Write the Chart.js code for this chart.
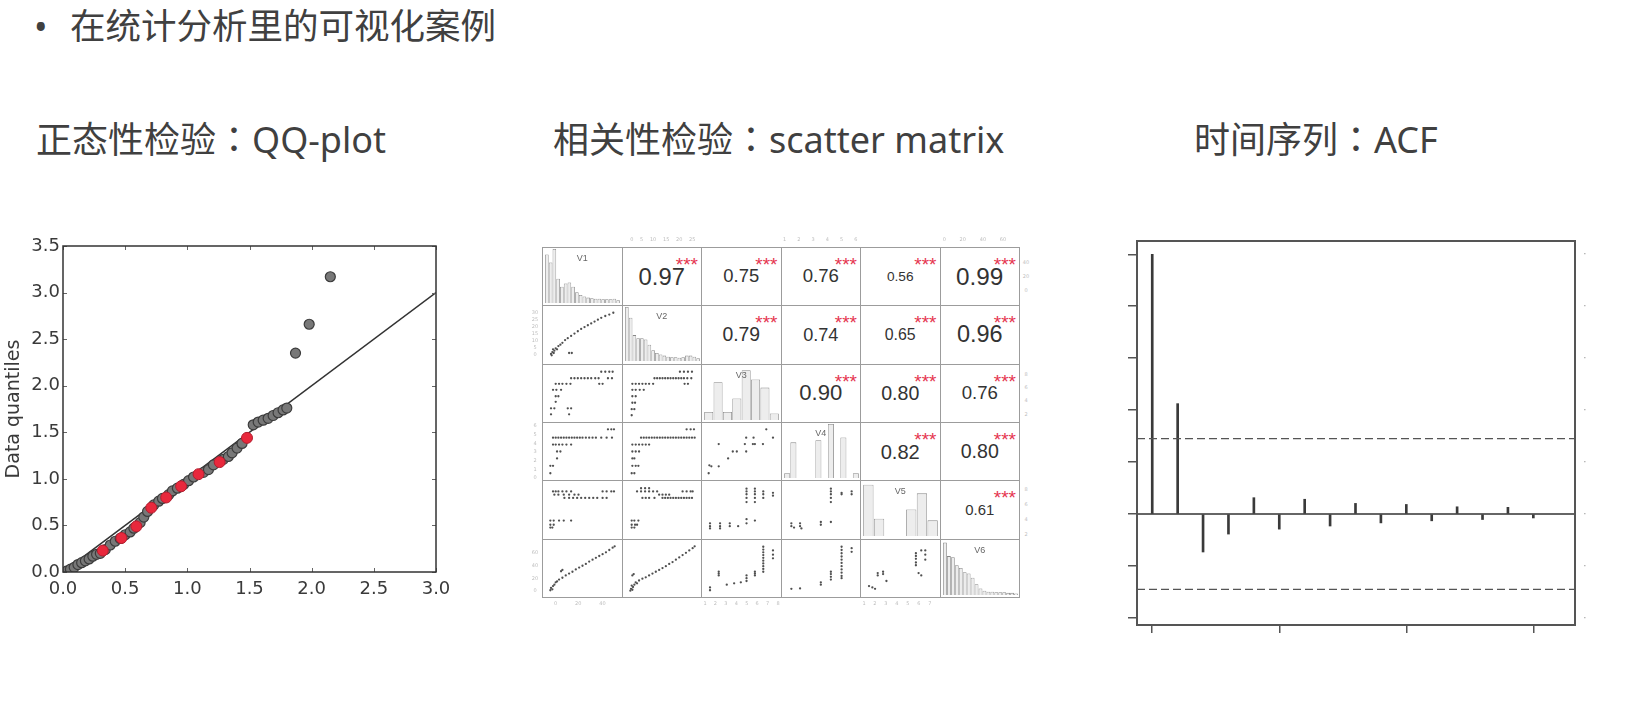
<!DOCTYPE html>
<html lang="zh-CN">
<head>
<meta charset="utf-8">
<title>统计分析可视化案例</title>
<script src="https://cdn.jsdelivr.net/npm/chart.js@4.4.1/dist/chart.umd.min.js"></script>
<style>
  html, body { margin:0; padding:0; background:#fff; }
  body { position:relative; width:1628px; height:713px; overflow:hidden; }
  .abs { position:absolute; }
  .head { font-family:"Noto Sans","Noto Sans CJK SC",sans-serif; white-space:nowrap; line-height:1; color:#404040; }
  .colon { font-family:"Noto Sans CJK TC",sans-serif; }
  #bullet { left:34px; top:9px; font-size:36px; }
  #title { left:70px; top:8px; font-size:35.5px; }
  .sub { top:119px; font-size:36px; }
  .cell { position:absolute; box-sizing:border-box; border:1px solid #9c9c9c; overflow:hidden; }
  .cell canvas { position:absolute; left:0; top:0; }
  .corr { position:absolute; left:0; top:0; width:100%; height:100%; display:flex; align-items:center; justify-content:center; font-family:"Liberation Sans",Arial,sans-serif; color:#333; line-height:1; }
  .stars { position:absolute; right:3px; top:7px; font-family:"Liberation Sans",Arial,sans-serif; font-size:19px; line-height:1; color:#e5354f; }
  .vlab { position:absolute; left:0; width:100%; top:6px; text-align:center; font-family:"Liberation Sans",Arial,sans-serif; font-size:9px; color:#666; line-height:1; }
  .edge { position:absolute; display:flex; justify-content:space-between; align-items:center; font-family:"DejaVu Sans",sans-serif; font-size:5px; color:#bdbdbd; line-height:1; }
</style>
</head>
<body>
<div id="bullet" class="abs head">•</div>
<div id="title" class="abs head">在统计分析里的可视化案例</div>
<div class="abs head sub" style="left:36px">正态性检验<span class="colon" lang="zh-TW">：</span>QQ-plot</div>
<div class="abs head sub" style="left:553px">相关性检验<span class="colon" lang="zh-TW">：</span>scatter matrix</div>
<div class="abs head sub" style="left:1194px">时间序列<span class="colon" lang="zh-TW">：</span>ACF</div>

<div class="abs" style="left:0;top:225px;width:450px;height:385px;overflow:hidden"><canvas id="qq" width="470" height="385"></canvas></div>
<div class="abs" style="left:1100px;top:225px;width:520px;height:420px"><canvas id="acf" width="520" height="420"></canvas></div>

<script>
// ---------------- QQ-plot data ----------------
const qqTheoGray = [0.03,0.06,0.09,0.12,0.15,0.18,0.21,0.24,0.27,0.30,0.34,0.38,0.42,0.46,0.50,0.54,0.57,0.62,0.65,0.68,0.73,0.77,0.80,0.85,0.88,0.92,0.97,1.01,1.05,1.13,1.17,1.21,1.29,1.33,1.36,1.40,1.44,1.53,1.57,1.61,1.65,1.69,1.73,1.77,1.80,1.87,1.98,2.15];
const qqDataGray = [0.01,0.03,0.05,0.08,0.10,0.12,0.14,0.17,0.19,0.20,0.24,0.29,0.33,0.36,0.40,0.43,0.47,0.53,0.59,0.65,0.72,0.76,0.79,0.83,0.87,0.90,0.94,0.98,1.02,1.07,1.10,1.15,1.21,1.24,1.28,1.33,1.38,1.58,1.61,1.63,1.65,1.68,1.71,1.74,1.76,2.35,2.66,3.17];
const qqTheoRed = [0.32,0.47,0.59,0.71,0.83,0.95,1.09,1.26,1.48];
const qqDataRed = [0.23,0.365,0.49,0.69,0.80,0.92,1.05,1.18,1.44];
const qqRefLineX = [0, 3];
const qqRefLineY = [0, 3];
const qqXTicks = [0, 0.5, 1.0, 1.5, 2.0, 2.5, 3.0];
const qqYTicks = [0, 0.5, 1.0, 1.5, 2.0, 2.5, 3.0, 3.5];

// ---------------- scatter matrix data ----------------
const matrixVars = ['V1','V2','V3','V4','V5','V6'];
const corrRow1 = [0.97, 0.75, 0.76, 0.56, 0.99];
const corrRow2 = [0.79, 0.74, 0.65, 0.96];
const corrRow3 = [0.90, 0.80, 0.76];
const corrRow4 = [0.82, 0.80];
const corrRow5 = [0.61];
const corrStars = '***';

const histV1 = [0.9,0.75,1.0,0.45,0.3,0.36,0.38,0.3,0.2,0.15,0.12,0.1,0.09,0.08,0.08,0.07,0.07,0.07,0.08,0.05];
const histV2 = [1.0,0.8,0.48,0.42,0.42,0.4,0.3,0.2,0.15,0.12,0.1,0.08,0.07,0.07,0.06,0.07,0.1,0.1,0.08,0.05];
const histV3 = [0.15,0.7,0.15,0.4,0.92,0.75,0.6,0.12];
const histV4 = [0.09,0.66,0,0,0,0.7,0,1.0,0,0.75,0,0.09];
const histV5 = [0.95,0.32,0,0,0.49,0.79,0.29];
const histV6 = [0.97,0.72,0.7,0.55,0.5,0.42,0.4,0.32,0.2,0.12,0.08,0.06,0.06,0.05,0.05,0.05,0.04,0.04,0.03];

const scV2V1 = [[0.03,0.08],[0.05,0.12],[0.07,0.1],[0.08,0.15],[0.1,0.2],[0.12,0.18],[0.14,0.25],[0.17,0.28],[0.2,0.32],[0.24,0.38],[0.28,0.42],[0.33,0.47],[0.38,0.52],[0.43,0.57],[0.48,0.62],[0.53,0.66],[0.58,0.7],[0.63,0.74],[0.68,0.78],[0.73,0.82],[0.78,0.86],[0.84,0.9],[0.9,0.93],[0.96,0.97],[0.3,0.1],[0.34,0.1],[0.04,0.05],[0.06,0.18]];
const scV3V1 = [[0.78,0.97],[0.84,0.97],[0.9,0.97],[0.95,0.97],[0.33,0.83],[0.38,0.83],[0.43,0.83],[0.48,0.83],[0.53,0.83],[0.58,0.83],[0.63,0.83],[0.69,0.83],[0.74,0.83],[0.88,0.83],[0.94,0.83],[0.1,0.71],[0.15,0.71],[0.2,0.71],[0.26,0.71],[0.32,0.71],[0.75,0.71],[0.8,0.71],[0.06,0.58],[0.11,0.58],[0.18,0.58],[0.1,0.44],[0.14,0.44],[0.1,0.32],[0.03,0.18],[0.08,0.18],[0.28,0.18],[0.33,0.18],[0.03,0.05],[0.3,0.05]];
const scV3V2 = [[0.76,0.97],[0.82,0.97],[0.88,0.97],[0.94,0.97],[0.38,0.83],[0.42,0.83],[0.46,0.83],[0.5,0.83],[0.54,0.83],[0.58,0.83],[0.62,0.83],[0.66,0.83],[0.7,0.83],[0.74,0.83],[0.78,0.83],[0.82,0.83],[0.87,0.83],[0.93,0.83],[0.05,0.71],[0.1,0.71],[0.15,0.71],[0.2,0.71],[0.25,0.71],[0.3,0.71],[0.36,0.71],[0.83,0.71],[0.88,0.71],[0.05,0.58],[0.1,0.58],[0.16,0.58],[0.22,0.58],[0.05,0.44],[0.1,0.44],[0.05,0.3],[0.09,0.3],[0.04,0.16],[0.08,0.16],[0.04,0.03]];
const scV4V1 = [[0.88,0.98],[0.93,0.98],[0.97,0.98],[0.06,0.8],[0.1,0.8],[0.14,0.8],[0.18,0.8],[0.22,0.8],[0.26,0.8],[0.3,0.8],[0.34,0.8],[0.38,0.8],[0.42,0.8],[0.46,0.8],[0.5,0.8],[0.55,0.8],[0.6,0.8],[0.65,0.8],[0.7,0.8],[0.78,0.8],[0.86,0.8],[0.94,0.8],[0.06,0.65],[0.1,0.65],[0.15,0.65],[0.2,0.65],[0.26,0.65],[0.33,0.65],[0.12,0.5],[0.17,0.5],[0.12,0.35],[0.02,0.19],[0.06,0.19],[0.02,0.03]];
const scV4V2 = [[0.86,0.98],[0.92,0.98],[0.97,0.98],[0.18,0.8],[0.22,0.8],[0.26,0.8],[0.3,0.8],[0.34,0.8],[0.38,0.8],[0.42,0.8],[0.46,0.8],[0.5,0.8],[0.54,0.8],[0.58,0.8],[0.62,0.8],[0.66,0.8],[0.7,0.8],[0.74,0.8],[0.78,0.8],[0.82,0.8],[0.86,0.8],[0.9,0.8],[0.94,0.8],[0.98,0.8],[0.05,0.65],[0.1,0.65],[0.15,0.65],[0.2,0.65],[0.25,0.65],[0.3,0.65],[0.05,0.5],[0.1,0.5],[0.15,0.5],[0.05,0.35],[0.08,0.35],[0.05,0.19],[0.1,0.19],[0.14,0.19],[0.04,0.03],[0.08,0.03]];
const scV4V3 = [[0.01,0.03],[0.05,0.18],[0.16,0.66],[0.3,0.35],[0.37,0.5],[0.43,0.5],[0.55,0.66],[0.57,0.8],[0.57,0.5],[0.67,0.66],[0.68,0.8],[0.7,0.66],[0.82,0.66],[0.87,0.98],[0.97,0.8],[0.16,0.18],[0.02,0.2]];
const scV5V1 = [[0.06,0.89],[0.1,0.89],[0.14,0.89],[0.2,0.89],[0.26,0.89],[0.33,0.89],[0.8,0.89],[0.86,0.89],[0.93,0.89],[0.97,0.89],[0.08,0.82],[0.14,0.82],[0.22,0.82],[0.3,0.82],[0.38,0.82],[0.44,0.82],[0.23,0.75],[0.3,0.75],[0.36,0.75],[0.42,0.75],[0.48,0.75],[0.54,0.75],[0.6,0.75],[0.66,0.75],[0.72,0.75],[0.8,0.75],[0.86,0.75],[0.02,0.26],[0.07,0.26],[0.15,0.26],[0.22,0.26],[0.33,0.26],[0.02,0.17],[0.07,0.17],[0.02,0.11],[0.05,0.11]];
const scV5V2 = [[0.18,0.96],[0.24,0.96],[0.3,0.96],[0.12,0.89],[0.18,0.89],[0.24,0.89],[0.3,0.89],[0.36,0.89],[0.42,0.89],[0.8,0.89],[0.86,0.89],[0.92,0.89],[0.95,0.89],[0.45,0.82],[0.5,0.82],[0.55,0.82],[0.6,0.82],[0.2,0.75],[0.25,0.75],[0.3,0.75],[0.38,0.75],[0.5,0.75],[0.54,0.75],[0.58,0.75],[0.62,0.75],[0.66,0.75],[0.7,0.75],[0.74,0.75],[0.78,0.75],[0.82,0.75],[0.86,0.75],[0.9,0.75],[0.94,0.75],[0.04,0.26],[0.08,0.26],[0.14,0.26],[0.04,0.17],[0.09,0.17],[0.12,0.17],[0.04,0.11],[0.08,0.11]];
const scV5V3 = [[0.575,0.95],[0.575,0.89],[0.575,0.83],[0.575,0.75],[0.575,0.66],[0.7,0.95],[0.7,0.89],[0.7,0.83],[0.7,0.75],[0.7,0.66],[0.825,0.89],[0.825,0.83],[0.825,0.75],[0.97,0.86],[0.97,0.8],[0.03,0.2],[0.03,0.14],[0.03,0.09],[0.18,0.2],[0.18,0.14],[0.18,0.09],[0.325,0.2],[0.325,0.14],[0.45,0.14],[0.575,0.29],[0.575,0.2],[0.7,0.26]];
const scV5V4 = [[0.05,0.14],[0.09,0.11],[0.18,0.14],[0.2,0.09],[0.05,0.2],[0.18,0.2],[0.49,0.23],[0.49,0.17],[0.64,0.95],[0.64,0.89],[0.64,0.83],[0.64,0.75],[0.64,0.66],[0.64,0.23],[0.8,0.86],[0.8,0.83],[0.95,0.89],[0.95,0.83]];
const scV6V1 = [[0.02,0.03],[0.03,0.08],[0.05,0.05],[0.06,0.12],[0.08,0.15],[0.1,0.2],[0.12,0.22],[0.15,0.26],[0.2,0.3],[0.25,0.35],[0.3,0.39],[0.35,0.43],[0.4,0.48],[0.45,0.52],[0.5,0.56],[0.55,0.6],[0.6,0.65],[0.65,0.69],[0.7,0.73],[0.75,0.77],[0.8,0.81],[0.85,0.85],[0.9,0.9],[0.95,0.95],[0.98,0.98],[0.18,0.44],[0.2,0.47]];
const scV6V2 = [[0.02,0.02],[0.03,0.06],[0.05,0.04],[0.06,0.1],[0.04,0.13],[0.08,0.15],[0.1,0.2],[0.12,0.18],[0.05,0.35],[0.07,0.38],[0.15,0.24],[0.2,0.28],[0.25,0.31],[0.3,0.35],[0.35,0.39],[0.4,0.43],[0.45,0.47],[0.5,0.51],[0.55,0.55],[0.6,0.6],[0.65,0.64],[0.7,0.69],[0.75,0.74],[0.8,0.79],[0.85,0.84],[0.9,0.89],[0.95,0.94],[0.98,0.98]];
const scV6V3 = [[0.03,0.03],[0.03,0.09],[0.16,0.35],[0.16,0.43],[0.16,0.39],[0.28,0.15],[0.39,0.18],[0.49,0.2],[0.575,0.23],[0.575,0.29],[0.575,0.35],[0.7,0.35],[0.7,0.43],[0.7,0.39],[0.825,0.97],[0.825,0.91],[0.825,0.85],[0.825,0.79],[0.825,0.73],[0.825,0.67],[0.825,0.61],[0.825,0.55],[0.825,0.49],[0.825,0.43],[0.97,0.89],[0.97,0.8],[0.97,0.72]];
const scV6V4 = [[0.05,0.06],[0.18,0.07],[0.49,0.2],[0.49,0.15],[0.64,0.43],[0.64,0.38],[0.64,0.32],[0.64,0.26],[0.8,0.97],[0.8,0.9],[0.8,0.83],[0.8,0.76],[0.8,0.69],[0.8,0.62],[0.8,0.55],[0.8,0.48],[0.8,0.41],[0.8,0.34],[0.8,0.29],[0.95,0.94],[0.95,0.86]];
const scV6V5 = [[0.03,0.12],[0.08,0.09],[0.12,0.06],[0.16,0.4],[0.16,0.35],[0.24,0.43],[0.24,0.38],[0.29,0.23],[0.73,0.83],[0.73,0.77],[0.73,0.71],[0.73,0.63],[0.73,0.57],[0.77,0.4],[0.81,0.35],[0.81,0.89],[0.87,0.89],[0.87,0.8],[0.87,0.69]];

const topTicksV2 = ['0','5','10','15','20','25'];
const topTicksV4 = ['1','2','3','4','5','6'];
const topTicksV6 = ['0','20','40','60'];
const bottomTicksV1 = ['0','20','40'];
const bottomTicksV3 = ['1','2','3','4','5','6','7','8'];
const bottomTicksV5 = ['1','2','3','4','5','6','7'];
const leftTicksV2 = ['0','5','10','15','20','25','30'];
const leftTicksV4 = ['0','1','2','3','4','5','6'];
const leftTicksV6 = ['0','20','40','60'];
const rightTicksV1 = ['0','20','40'];
const rightTicksV3 = ['2','4','6','8'];
const rightTicksV5 = ['2','4','6','8'];

// ---------------- ACF data ----------------
const acfLags = [0,1,2,3,4,5,6,7,8,9,10,11,12,13,14,15];
const acfValues = [1.0,0.425,-0.146,-0.077,0.063,-0.058,0.057,-0.046,0.041,-0.034,0.037,-0.026,0.028,-0.021,0.026,-0.015];
const acfConfBound = 0.29;
const acfYTicks = [-0.4,-0.2,0,0.2,0.4,0.6,0.8,1.0];
const acfXTicks = [0,5,10,15];

// ---------------- helpers ----------------
const framePlugin = {
  id: 'frame',
  afterDatasetsDraw(chart, args, opts) {
    const { ctx, chartArea: a } = chart;
    ctx.save();
    if (opts.innerTicks) {
      ctx.strokeStyle = opts.tickColor || '#555';
      ctx.lineWidth = 1;
      const L = opts.innerTicks;
      chart.scales.x.ticks.forEach(t => {
        const px = Math.round(chart.scales.x.getPixelForValue(t.value)) + 0.5;
        ctx.beginPath(); ctx.moveTo(px, a.bottom); ctx.lineTo(px, a.bottom - L);
        ctx.moveTo(px, a.top); ctx.lineTo(px, a.top + L); ctx.stroke();
      });
      chart.scales.y.ticks.forEach(t => {
        const py = Math.round(chart.scales.y.getPixelForValue(t.value)) + 0.5;
        ctx.beginPath(); ctx.moveTo(a.left, py); ctx.lineTo(a.left + L, py);
        ctx.moveTo(a.right, py); ctx.lineTo(a.right - L, py); ctx.stroke();
      });
    }
    ctx.strokeStyle = opts.color || '#333';
    ctx.lineWidth = opts.width || 1.5;
    ctx.strokeRect(a.left, a.top, a.right - a.left, a.bottom - a.top);
    ctx.restore();
  }
};
const baseOpts = { responsive:false, animation:false, events:[] };
const noPlugins = { legend:{display:false}, tooltip:{enabled:false} };

// ---------------- QQ-plot ----------------
new Chart(document.getElementById('qq'), {
  type: 'scatter',
  data: {
    datasets: [
      { data: qqTheoRed.map((x,i)=>({x, y: qqDataRed[i]})), pointRadius:5.5, pointBackgroundColor:'#e8283c', pointBorderColor:'#b21d2e', pointBorderWidth:1 },
      { data: qqTheoGray.map((x,i)=>({x, y: qqDataGray[i]})), pointRadius:5, pointBackgroundColor:'#787878', pointBorderColor:'#3c3c3c', pointBorderWidth:1.2 },
      { type:'line', data: qqRefLineX.map((x,i)=>({x, y: qqRefLineY[i]})), borderColor:'#333', borderWidth:1.5, pointRadius:0, fill:false }
    ]
  },
  options: Object.assign({}, baseOpts, {
    layout: { padding: { left:0, top:21, right:34, bottom:0 } },
    plugins: Object.assign({}, noPlugins, { frame: { color:'#333', width:1.5, innerTicks:4, tickColor:'#666' } }),
    scales: {
      x: { type:'linear', min:0, max:3, afterBuildTicks: s => { s.ticks = qqXTicks.map(v=>({value:v})); },
           ticks: { callback: v => Number(v).toFixed(1), font:{family:'DejaVu Sans', size:18}, color:'#3a3a3a', padding:7, maxRotation:0, autoSkip:false },
           grid: { display:false, drawTicks:false }, border: { display:false }, afterFit: s => { s.height = 38; } },
      y: { min:0, max:3.5, afterBuildTicks: s => { s.ticks = qqYTicks.map(v=>({value:v})); },
           ticks: { callback: v => Number(v).toFixed(1), font:{family:'DejaVu Sans', size:18}, color:'#3a3a3a', padding:3, autoSkip:false },
           grid: { display:false, drawTicks:false }, border: { display:false },
           title: { display:true, text:'Data quantiles', font:{family:'DejaVu Sans', size:19}, color:'#3a3a3a', padding:{top:3, bottom:0} },
           afterFit: s => { s.width = 63; } }
    }
  }),
  plugins: [framePlugin]
});

// ---------------- scatter matrix ----------------
const MX = 542, MY = 247, CW = 79.5, CH = 58.33;
function cellDiv(i, j) {
  const d = document.createElement('div');
  d.className = 'cell';
  d.style.left = (MX + j*CW) + 'px';
  d.style.top = (MY + i*CH) + 'px';
  d.style.width = (CW + 1) + 'px';
  d.style.height = (CH + 1) + 'px';
  document.body.appendChild(d);
  return d;
}
function cellCanvas(d) {
  const c = document.createElement('canvas');
  c.width = Math.round(CW - 1); c.height = Math.round(CH - 1);
  d.appendChild(c);
  return c;
}
[corrRow1, corrRow2, corrRow3, corrRow4, corrRow5].forEach((row, i) => {
  row.forEach((r, k) => {
    const j = i + 1 + k;
    const d = cellDiv(i, j);
    const t = document.createElement('div');
    t.className = 'corr';
    t.style.fontSize = (24.5 * r).toFixed(1) + 'px';
    t.textContent = r.toFixed(2);
    d.appendChild(t);
    const s = document.createElement('div');
    s.className = 'stars';
    s.textContent = corrStars;
    d.appendChild(s);
  });
});
[histV1, histV2, histV3, histV4, histV5, histV6].forEach((h, i) => {
  const d = cellDiv(i, i);
  const c = cellCanvas(d);
  new Chart(c, {
    type: 'bar',
    data: { labels: h.map((_, k) => k), datasets: [{ data: h, backgroundColor:'#ededed', borderColor:'#888', borderWidth:0.8, barPercentage:1, categoryPercentage:0.96 }] },
    options: Object.assign({}, baseOpts, {
      layout: { padding: { left:2, right:2, top:1, bottom:2 } },
      plugins: noPlugins,
      scales: { x: { display:false }, y: { display:false, min:0, max:1 } }
    })
  });
  const lab = document.createElement('div');
  lab.className = 'vlab';
  lab.textContent = matrixVars[i];
  d.appendChild(lab);
});
const lowerPanels = [
  [1,0,scV2V1],[2,0,scV3V1],[2,1,scV3V2],[3,0,scV4V1],[3,1,scV4V2],[3,2,scV4V3],
  [4,0,scV5V1],[4,1,scV5V2],[4,2,scV5V3],[4,3,scV5V4],
  [5,0,scV6V1],[5,1,scV6V2],[5,2,scV6V3],[5,3,scV6V4],[5,4,scV6V5]
];
lowerPanels.forEach(([i, j, pts]) => {
  const d = cellDiv(i, j);
  const c = cellCanvas(d);
  new Chart(c, {
    type: 'scatter',
    data: { datasets: [{ data: pts.map(p => ({x:p[0], y:p[1]})), pointRadius:1.15, pointBackgroundColor:'#505050', pointBorderWidth:0 }] },
    options: Object.assign({}, baseOpts, {
      layout: { padding: 3 },
      plugins: noPlugins,
      scales: { x: { type:'linear', display:false, min:-0.03, max:1.03 }, y: { display:false, min:-0.03, max:1.03 } }
    })
  });
});
function edge(side, idx, f0, f1, labels) {
  const e = document.createElement('div');
  e.className = 'edge';
  if (side === 'top' || side === 'bottom') {
    e.style.left = (MX + idx*CW + f0*CW) + 'px';
    e.style.width = ((f1 - f0)*CW) + 'px';
    e.style.height = '8px';
    e.style.top = (side === 'top' ? MY - 12 : MY + 6*CH + 3) + 'px';
  } else {
    e.style.flexDirection = 'column-reverse';
    e.style.top = (MY + idx*CH + f0*CH) + 'px';
    e.style.height = ((f1 - f0)*CH) + 'px';
    e.style.width = '8px';
    e.style.left = (side === 'left' ? MX - 11 : MX + 6*CW + 3) + 'px';
  }
  labels.forEach(t => { const s = document.createElement('span'); s.textContent = t; e.appendChild(s); });
  document.body.appendChild(e);
}
edge('top', 1, 0.11, 0.93, topTicksV2);
edge('top', 3, 0.03, 0.97, topTicksV4);
edge('top', 5, 0.04, 0.84, topTicksV6);
edge('bottom', 0, 0.15, 0.8, bottomTicksV1);
edge('bottom', 2, 0.03, 0.99, bottomTicksV3);
edge('bottom', 4, 0.03, 0.9, bottomTicksV5);
edge('left', 1, 0.08, 0.88, leftTicksV2);
edge('left', 3, 0.02, 1.0, leftTicksV4);
edge('left', 5, 0.2, 0.94, leftTicksV6);
edge('right', 0, 0.22, 0.79, rightTicksV1);
edge('right', 2, 0.14, 0.91, rightTicksV3);
edge('right', 4, 0.11, 0.97, rightTicksV5);

// ---------------- ACF ----------------
const acfXMin = -0.6, acfXMax = 16.64;
new Chart(document.getElementById('acf'), {
  type: 'bar',
  data: {
    datasets: [
      { type:'line', data:[{x:acfXMin, y:0},{x:acfXMax, y:0}], borderColor:'#333', borderWidth:1.6, pointRadius:0 },
      { type:'line', data:[{x:acfXMin, y:acfConfBound},{x:acfXMax, y:acfConfBound}], borderColor:'#555', borderWidth:1.3, borderDash:[8,4], pointRadius:0 },
      { type:'line', data:[{x:acfXMin, y:-acfConfBound},{x:acfXMax, y:-acfConfBound}], borderColor:'#555', borderWidth:1.3, borderDash:[8,4], pointRadius:0 },
      { type:'bar', data: acfLags.map((l,i)=>({x:l, y:acfValues[i]})), backgroundColor:'#3a3a3a', barThickness:2, grouped:false }
    ]
  },
  options: Object.assign({}, baseOpts, {
    layout: { padding: { left:27, right:30, top:16, bottom:10 } },
    plugins: Object.assign({}, noPlugins, { frame: { color:'#555', width:2 } }),
    scales: {
      x: { type:'linear', min:acfXMin, max:acfXMax, offset:false,
           afterBuildTicks: s => { s.ticks = acfXTicks.map(v=>({value:v})); },
           ticks: { display:false }, grid: { offset:false, drawOnChartArea:false, drawTicks:true, tickLength:8, color:'#555', lineWidth:1.5 },
           border: { display:false }, afterFit: s => { s.height = 10; } },
      y: { min:-0.427, max:1.051,
           afterBuildTicks: s => { s.ticks = acfYTicks.map(v=>({value:v})); },
           ticks: { display:false }, grid: { drawOnChartArea:false, drawTicks:true, tickLength:9, color:'#555', lineWidth:1.5 },
           border: { display:false }, afterFit: s => { s.width = 10; } },
      y2: { position:'right', min:-0.427, max:1.051,
           afterBuildTicks: s => { s.ticks = acfYTicks.map(v=>({value:v})); },
           ticks: { callback: () => '·', color:'#999', font:{size:11}, padding:8 },
           grid: { display:false, drawTicks:false }, border: { display:false }, afterFit: s => { s.width = 15; } }
    }
  }),
  plugins: [framePlugin]
});
</script>
</body>
</html>
